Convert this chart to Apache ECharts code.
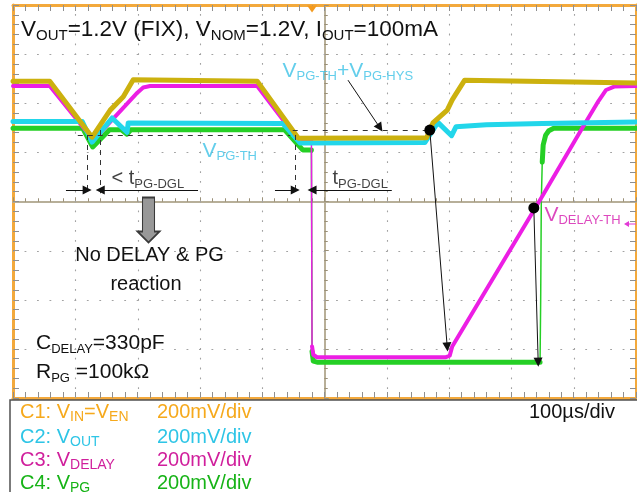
<!DOCTYPE html>
<html>
<head>
<meta charset="utf-8">
<title>PG deglitch and DELAY response</title>
<script src="https://cdn.jsdelivr.net/npm/echarts@6/dist/echarts.min.js"></script>
<style>
html, body { margin: 0; padding: 0; background: #ffffff; }
#scope { width: 637px; height: 492px; }
</style>
</head>
<body>
<div id="scope"></div>
<script>
// Screen coordinates: time in µs from the centre graticule line (100 µs/div),
// level in divisions from the centre line (200 mV/div on every channel).
const timeRange = [-500, 500];
const levelRange = [-4, 4];
const timeDivs = [-400, -300, -200, -100, 100, 200, 300, 400];
const levelDivs = [-3, -2, -1, 1, 2, 3];

// C1: VIN = VEN
const vinTrace = [
  [-500, 2.45], [-441, 2.45], [-373, 1.31], [-344, 1.86], [-323, 2.13], [-307, 2.48],
  [-108, 2.45], [-42, 1.29], [164, 1.30], [174, 1.60], [197, 1.86], [205, 2.07],
  [210, 2.17], [225, 2.47], [500, 2.41]
];
// C2: VOUT
const voutTrace = [
  [-500, 1.63], [-389, 1.63], [-373, 1.21], [-341, 1.70], [-317, 1.41], [-315, 1.60],
  [-67, 1.59], [-39, 1.19], [161, 1.20], [182, 1.61], [204, 1.34], [211, 1.52],
  [260, 1.56], [350, 1.59], [500, 1.62]
];
// C3: VDELAY
const delayTrace = [
  [-500, 2.35], [-441, 2.35], [-371, 1.25], [-300, 2.22], [-291, 2.32], [-280, 2.35],
  [-108, 2.35], [-42, 1.25], [-21, 1.23], [-20, -2.95], [-18, -3.12], [-12, -3.17],
  [195, -3.17], [201, -3.14], [205, -2.95], [346, 0.03], [415, 1.52], [440, 2.05],
  [452, 2.27], [465, 2.34], [500, 2.35]
];
// C4: VPG
const pgTrace = [
  [-500, 1.49], [-388, 1.49], [-372, 1.11], [-345, 1.46], [-326, 1.46], [-317, 1.37],
  [-311, 1.46], [-64, 1.46], [-35, 1.05], [-21, 1.05], [-20, -3.05], [-18, -3.25],
  [-12, -3.27], [346, -3.27], [347, -2.0], [348, 0.0], [349.5, 0.8], [351, 1.15],
  [355, 1.35], [360, 1.44], [368, 1.49], [500, 1.49]
];

// Threshold levels and event times
const pgThreshold = 1.354;        // VPG-TH
const pgThresholdHys = 1.455;     // VPG-TH + VPG-HYS
const glitchStart = -381;
const glitchEnd = -360;
const fallCross = -47;
const pgFall = -20;
const riseCross = 169;
const delayStart = 197;
const delayThCross = 336;
const delayThLevel = -0.13;
const pgRise = 343;
const lowLevel = -3.27;
const dglArrowLevel = 0.234;

const FONT = '"Liberation Sans", Arial, Helvetica, sans-serif';
const COL = {
  vin: '#ccb10e', vout: '#22d6ea', delay: '#ec1ee4', pg: '#25cf25',
  lblCyan: '#3cc2e6', lblMagenta: '#d41aae',
  legVin: '#f6a91c', legVout: '#2ec5e6', legDelay: '#d01f9c', legPg: '#17b317'
};

// Fast edges are drawn thin, like a scope's sparse samples on a transition
function edgeSplit(points, limit) {
  const gap = ['-', '-'];
  const body = [points[0]];
  const edges = [];
  for (let i = 1; i < points.length; i++) {
    const a = points[i - 1], b = points[i];
    const dt = Math.abs(b[0] - a[0]);
    const steep = dt === 0 || Math.abs(b[1] - a[1]) / dt > limit;
    if (steep) { body.push(gap, b); edges.push(a, b, gap); }
    else body.push(b);
  }
  return { body, edges };
}

function traceSeries(points, color, width) {
  const parts = edgeSplit(points, 0.3);
  const base = {
    type: 'line', xAxisIndex: 0, yAxisIndex: 0, showSymbol: false, symbol: 'none',
    connectNulls: false, silent: true, animation: false, z: 3
  };
  return [
    Object.assign({}, base, { data: parts.body, lineStyle: { color, width, cap: 'round', join: 'round' } }),
    Object.assign({}, base, { data: parts.edges, lineStyle: { color, width: 1.5 } })
  ];
}

function richSet(color, main, sub) {
  return {
    m: { fontSize: main, color, fontFamily: FONT, lineHeight: main + 4 },
    s: { fontSize: sub, color, fontFamily: FONT, lineHeight: sub, verticalAlign: 'bottom' }
  };
}

const notes = [
  { at: [-66.6, 2.65], text: '{m|V}{s|PG-TH}{m|+V}{s|PG-HYS}', rich: richSet(COL.lblCyan, 21, 13) },
  { at: [-195, 1.02], text: '{m|V}{s|PG-TH}', rich: richSet(COL.lblCyan, 21, 13) },
  { at: [353.9, -0.28], text: '{m|V}{s|DELAY-TH}', rich: richSet(COL.lblMagenta, 21, 13) },
  { at: [-341, 0.456], text: '{m|< t}{s|PG-DGL}', rich: richSet('#111', 20, 13) },
  { at: [13.6, 0.456], text: '{m|t}{s|PG-DGL}', rich: richSet('#111', 20, 13) }
];

const tickGray = '#8f8f8f';
const centreStyle = { color: '#b3aa92', width: 1.5 };
const centreTick = '#9a9078';

function centreAxis(extra, inside) {
  return Object.assign({
    type: 'value', axisLabel: { show: false },
    axisTick: { show: true, inside, length: 4, lineStyle: { color: centreTick, width: 1 } },
    minorTick: { show: true, splitNumber: 5, length: 3, lineStyle: { color: centreTick, width: 1 } },
    splitLine: { show: false }, minorSplitLine: { show: false }
  }, extra);
}
function frameAxis(extra) {
  return Object.assign({
    type: 'value', axisLabel: { show: false },
    axisLine: { show: true, onZero: false, lineStyle: { color: '#f3a93c', width: 3 } },
    axisTick: { show: true, inside: true, length: 6, lineStyle: { color: tickGray, width: 1 } },
    minorTick: { show: true, splitNumber: 5, length: 6, lineStyle: { color: tickGray, width: 1 } },
    splitLine: { show: false }, minorSplitLine: { show: false }
  }, extra);
}

const xr = { min: timeRange[0], max: timeRange[1], interval: 100 };
const yr = { min: levelRange[0], max: levelRange[1], interval: 1 };

// dotted graticule: one entry per division line, [position, 0 = vertical / 1 = horizontal]
const graticule = timeDivs.map(t => [t, 0]).concat(levelDivs.map(v => [v, 1]));

function renderGraticule(params, api) {
  const pos = api.value(0);
  const vertical = api.value(1) === 0;
  const a = vertical ? api.coord([pos, levelRange[1]]) : api.coord([timeRange[0], pos]);
  const b = vertical ? api.coord([pos, levelRange[0]]) : api.coord([timeRange[1], pos]);
  const step = vertical ? (b[1] - a[1]) / 40 : (b[0] - a[0]) / 50;
  const x = Math.round(a[0]) + 0.5, y = Math.round(a[1]) + 0.5;
  return {
    type: 'line',
    shape: vertical ? { x1: x, y1: a[1], x2: x, y2: b[1] } : { x1: a[0], y1: y, x2: b[0], y2: y },
    style: { stroke: '#a2a2a2', lineWidth: 1.1, lineDash: [1.8, step - 1.8], lineDashOffset: 0.9 }
  };
}

const blockArrow = 'path://M5,0L17,0L17,34L22,34L11,45L0,34L5,34Z';

const option = {
  animation: false,
  backgroundColor: '#ffffff',
  grid: { left: 13, top: 5, width: 623, height: 393, containLabel: false },
  xAxis: [
    centreAxis(Object.assign({ axisLine: { show: true, onZero: true, lineStyle: centreStyle } }, xr), true),
    centreAxis(Object.assign({ axisLine: { show: true, onZero: true, onZeroAxisIndex: 0, lineStyle: centreStyle } }, xr), false),
    frameAxis(Object.assign({ position: 'top' }, xr)),
    frameAxis(Object.assign({ position: 'bottom' }, xr))
  ],
  yAxis: [
    centreAxis(Object.assign({ axisLine: { show: true, onZero: true, lineStyle: centreStyle } }, yr), true),
    centreAxis(Object.assign({ axisLine: { show: true, onZero: true, onZeroAxisIndex: 0, lineStyle: centreStyle } }, yr), false),
    frameAxis(Object.assign({ position: 'left' }, yr)),
    frameAxis(Object.assign({ position: 'right' }, yr))
  ],
  series: [].concat(
    [{
      type: 'custom', xAxisIndex: 0, yAxisIndex: 0, data: graticule, renderItem: renderGraticule,
      silent: true, animation: false, z: 1, clip: false
    }],
    traceSeries(pgTrace, COL.pg, 5),
    traceSeries(delayTrace, COL.delay, 4),
    traceSeries(voutTrace, COL.vout, 5),
    traceSeries(vinTrace, COL.vin, 5),
    [
      {
        // threshold guides and timing markers
        type: 'scatter', xAxisIndex: 0, yAxisIndex: 0, data: [], silent: true, clip: false, z: 8,
        markLine: {
          silent: true, animation: false, symbol: ['none', 'none'], label: { show: false },
          lineStyle: { color: '#333', width: 1, type: [5, 5] },
          emphasis: { disabled: true },
          data: [
            [{ coord: [-396, pgThreshold] }, { coord: [-55, pgThreshold] }],
            [{ coord: [-51, pgThresholdHys] }, { coord: [166, pgThresholdHys] }],
            [{ coord: [glitchStart, pgThreshold] }, { coord: [glitchStart, 0.17] }],
            [{ coord: [glitchEnd, pgThresholdHys] }, { coord: [glitchEnd, 0.17] }],
            [{ coord: [fallCross, pgThreshold] }, { coord: [fallCross, 0.17] }]
          ]
        }
      },
      {
        // arrows
        type: 'scatter', xAxisIndex: 0, yAxisIndex: 0, data: [], silent: true, clip: false, z: 9,
        markLine: {
          silent: true, animation: false, symbol: ['none', 'triangle'], symbolSize: 9,
          label: { show: false }, emphasis: { disabled: true },
          lineStyle: { color: '#111', width: 1, type: 'solid' },
          data: [
            [{ coord: [-415, dglArrowLevel] }, { coord: [glitchStart, dglArrowLevel] }],
            [{ coord: [-203, dglArrowLevel] }, { coord: [glitchEnd, dglArrowLevel] }],
            [{ coord: [-79.5, dglArrowLevel] }, { coord: [fallCross, dglArrowLevel] }],
            [{ coord: [108, dglArrowLevel] }, { coord: [pgFall, dglArrowLevel] }],
            [{ coord: [37.7, 2.47] }, { coord: [89, 1.50] }],
            [{ coord: [riseCross, pgThresholdHys] }, { coord: [delayStart, -2.96] }],
            [{ coord: [delayThCross, delayThLevel] }, { coord: [pgRise, lowLevel] }]
          ]
        },
        markPoint: {
          silent: true, animation: false, label: { show: false },
          data: [
            { coord: [riseCross, pgThresholdHys], symbol: 'circle', symbolSize: 11, itemStyle: { color: '#000' } },
            { coord: [delayThCross, delayThLevel], symbol: 'circle', symbolSize: 11, itemStyle: { color: '#000' } },
            { coord: [-282.5, -0.377], symbol: blockArrow, symbolSize: [22, 45],
              itemStyle: { color: '#989898', borderColor: '#3a3a3a', borderWidth: 1.5 } },
            { coord: [pgFall, 4], symbol: 'path://M0,0L10,0L5,7Z', symbolSize: [10, 7], symbolOffset: [0, 4],
              itemStyle: { color: '#f39a1e' } },
            { coord: [500, -0.458], symbol: 'path://M0,3L5,0L5,2.4L12,2.4L12,3.6L5,3.6L5,6Z', symbolSize: [12, 6],
              symbolOffset: [-6, 0], itemStyle: { color: '#e23ad6' } },
            { coord: [-505, -3.19], symbol: 'circle', symbolSize: 13,
              itemStyle: { color: '#20cfe2', borderColor: '#e8a43c', borderWidth: 2 },
              label: { show: true, formatter: '2', color: '#0a2a40', fontSize: 8, fontFamily: FONT } }
          ]
        }
      },
      {
        // text notes placed in screen coordinates
        type: 'scatter', xAxisIndex: 0, yAxisIndex: 0, symbolSize: 1, silent: true, clip: false, z: 10,
        itemStyle: { color: 'rgba(0,0,0,0)' },
        data: notes.map(n => ({
          value: n.at,
          label: { show: true, position: [0, 0], align: 'left', verticalAlign: 'middle',
                   formatter: n.text, rich: n.rich }
        }))
      }
    ]
  ),
  graphic: [
    { type: 'text', x: 21, y: 30, z: 20,
      style: { text: '{m|V}{s|OUT}{m|=1.2V (FIX), V}{s|NOM}{m|=1.2V, I}{s|OUT}{m|=100mA}',
               verticalAlign: 'middle',
               rich: { m: { fontSize: 22.5, fontFamily: FONT, fill: '#111', lineHeight: 26 },
                       s: { fontSize: 15, fontFamily: FONT, fill: '#111', lineHeight: 15, verticalAlign: 'bottom' } } } },
    { type: 'text', x: 149.5, y: 255, z: 20,
      style: { text: 'No DELAY & PG', fontSize: 20, fontFamily: FONT, fill: '#111', align: 'center', verticalAlign: 'middle' } },
    { type: 'text', x: 146, y: 284, z: 20,
      style: { text: 'reaction', fontSize: 20, fontFamily: FONT, fill: '#111', align: 'center', verticalAlign: 'middle' } },
    { type: 'text', x: 36, y: 343, z: 20,
      style: { text: '{m|C}{s|DELAY}{m|=330pF}', verticalAlign: 'middle',
               rich: { m: { fontSize: 21, fontFamily: FONT, fill: '#111', lineHeight: 25 },
                       s: { fontSize: 13, fontFamily: FONT, fill: '#111', lineHeight: 13, verticalAlign: 'bottom' } } } },
    { type: 'text', x: 36, y: 372, z: 20,
      style: { text: '{m|R}{s|PG}{m| =100kΩ}', verticalAlign: 'middle',
               rich: { m: { fontSize: 21, fontFamily: FONT, fill: '#111', lineHeight: 25 },
                       s: { fontSize: 13, fontFamily: FONT, fill: '#111', lineHeight: 13, verticalAlign: 'bottom' } } } },
    // channel settings panel
    { type: 'rect', z: 15, shape: { x: 10, y: 400, width: 640, height: 100 },
      style: { fill: '#ffffff', stroke: '#505050', lineWidth: 1.5 } }
  ]
};

const legendRows = [
  { y: 412, label: 'C1: V', sub: 'IN', tail: '=V', sub2: 'EN', color: COL.legVin },
  { y: 437, label: 'C2: V', sub: 'OUT', color: COL.legVout },
  { y: 460, label: 'C3: V', sub: 'DELAY', color: COL.legDelay },
  { y: 483, label: 'C4: V', sub: 'PG', color: COL.legPg }
];
const scaleText = '200mV/div';
const timebaseText = '100µs/div';

legendRows.forEach(r => {
  let txt = '{m|' + r.label + '}{s|' + r.sub + '}';
  if (r.tail) txt += '{m|' + r.tail + '}{s|' + r.sub2 + '}';
  option.graphic.push({
    type: 'text', x: 20, y: r.y, z: 20,
    style: { text: txt, verticalAlign: 'middle',
             rich: { m: { fontSize: 20, fontFamily: FONT, fill: r.color, lineHeight: 24 },
                     s: { fontSize: 14, fontFamily: FONT, fill: r.color, lineHeight: 14, verticalAlign: 'bottom' } } }
  });
  option.graphic.push({
    type: 'text', x: 157, y: r.y, z: 20,
    style: { text: scaleText, fontSize: 20, fontFamily: FONT, fill: r.color, verticalAlign: 'middle' }
  });
});
option.graphic.push({
  type: 'text', x: 615, y: 412, z: 20,
  style: { text: timebaseText, fontSize: 20, fontFamily: FONT, fill: '#111', align: 'right', verticalAlign: 'middle' }
});

const chart = echarts.init(document.getElementById('scope'), null, { renderer: 'canvas' });
chart.setOption(option);
</script>
</body>
</html>
